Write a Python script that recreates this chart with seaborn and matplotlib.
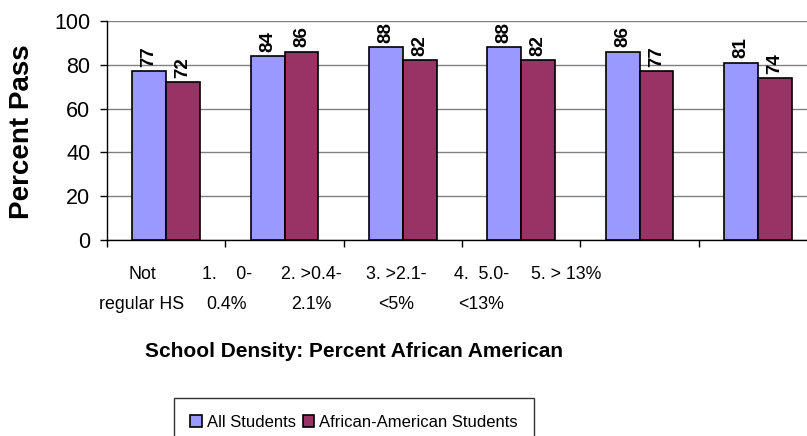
import matplotlib
matplotlib.use('Agg')
import matplotlib.pyplot as plt
import seaborn as sns
import pandas as pd
import numpy as np

# Data
categories = ['Not\nregular HS', '1.    0-\n0.4%', '2. >0.4-\n2.1%',
              '3. >2.1-\n<5%', '4.  5.0-\n<13%', '5. > 13%']
all_students = [77, 84, 88, 88, 86, 81]
aa_students = [72, 86, 82, 82, 77, 74]
series_names = ['All Students', 'African-American Students']
colors = ['#9999FF', '#993366']
y_ticks = [0, 20, 40, 60, 80, 100]

sns.set_style('white')
plt.rcParams['font.family'] = ['Liberation Sans', 'DejaVu Sans']
plt.rcParams['text.color'] = 'black'
plt.rcParams['xtick.color'] = 'black'
plt.rcParams['ytick.color'] = 'black'

df = pd.DataFrame({
    'category': categories * 2,
    'group': [series_names[0]] * len(categories) + [series_names[1]] * len(categories),
    'value': all_students + aa_students,
})

fig = plt.figure(figsize=(8.07, 4.36), dpi=100)
W, H = 807, 436
# plot area runs a little past the right edge, like the reference
ax = fig.add_axes([107 / W, 1 - 240 / H, 710 / W, 219 / H])

sns.barplot(data=df, x='category', y='value', hue='group', order=categories,
            hue_order=series_names, palette=colors, width=0.574,
            edgecolor='black', linewidth=1.2, saturation=1, ax=ax, zorder=3)

handles, labels = ax.get_legend_handles_labels()
if ax.get_legend() is not None:
    ax.get_legend().remove()

for cont in ax.containers:
    ax.bar_label(cont, fmt='%.0f', rotation=90, padding=3, fontsize=13.5,
                 fontweight='bold', color='black')

ax.set_xlim(-0.5, len(categories) - 0.5)
ax.set_ylim(0, 100)
ax.set_yticks(y_ticks)
ax.yaxis.grid(True, color='#808080', linewidth=1)
ax.set_axisbelow(True)

# tick marks on category boundaries, labels where the reference puts them
ax.set_xticks(np.arange(-0.5, len(categories), 1), minor=True)
label_pos = -0.204 + 0.7166 * np.arange(len(categories))
ax.set_xticks(label_pos)
ax.set_xticklabels(categories, fontsize=12.8, linespacing=2.0)
ax.tick_params(axis='x', which='major', length=0, pad=19, bottom=True)
ax.tick_params(axis='x', which='minor', length=5, width=1, color='black',
               direction='out', bottom=True)
ax.tick_params(axis='y', length=5, width=1, color='black', direction='out',
               labelsize=15.5, pad=7, left=True)

for side in ['top', 'right']:
    ax.spines[side].set_visible(False)
for side in ['left', 'bottom']:
    ax.spines[side].set_color('black')
    ax.spines[side].set_linewidth(1)

ax.set_xlabel('')
ax.set_ylabel('')
fig.text(22 / W, 1 - 132 / H, 'Percent Pass', rotation=90, ha='center', va='center',
         fontsize=20, fontweight='bold')
fig.text(354 / W, 1 - 351 / H, 'School Density: Percent African American',
         ha='center', va='center', fontsize=15, fontweight='bold')

leg = fig.legend(handles, labels, loc='upper center', bbox_to_anchor=(354 / W, 1 - 398 / H),
                 ncol=2, frameon=True, fancybox=False, shadow=False,
                 handlelength=0.7, handleheight=0.7, handletextpad=0.3, columnspacing=0.4,
                 borderpad=1.0, borderaxespad=0, prop={'size': 12})
leg.get_frame().set_edgecolor('black')
leg.get_frame().set_linewidth(1)

fig.savefig('out.png', dpi=100)
